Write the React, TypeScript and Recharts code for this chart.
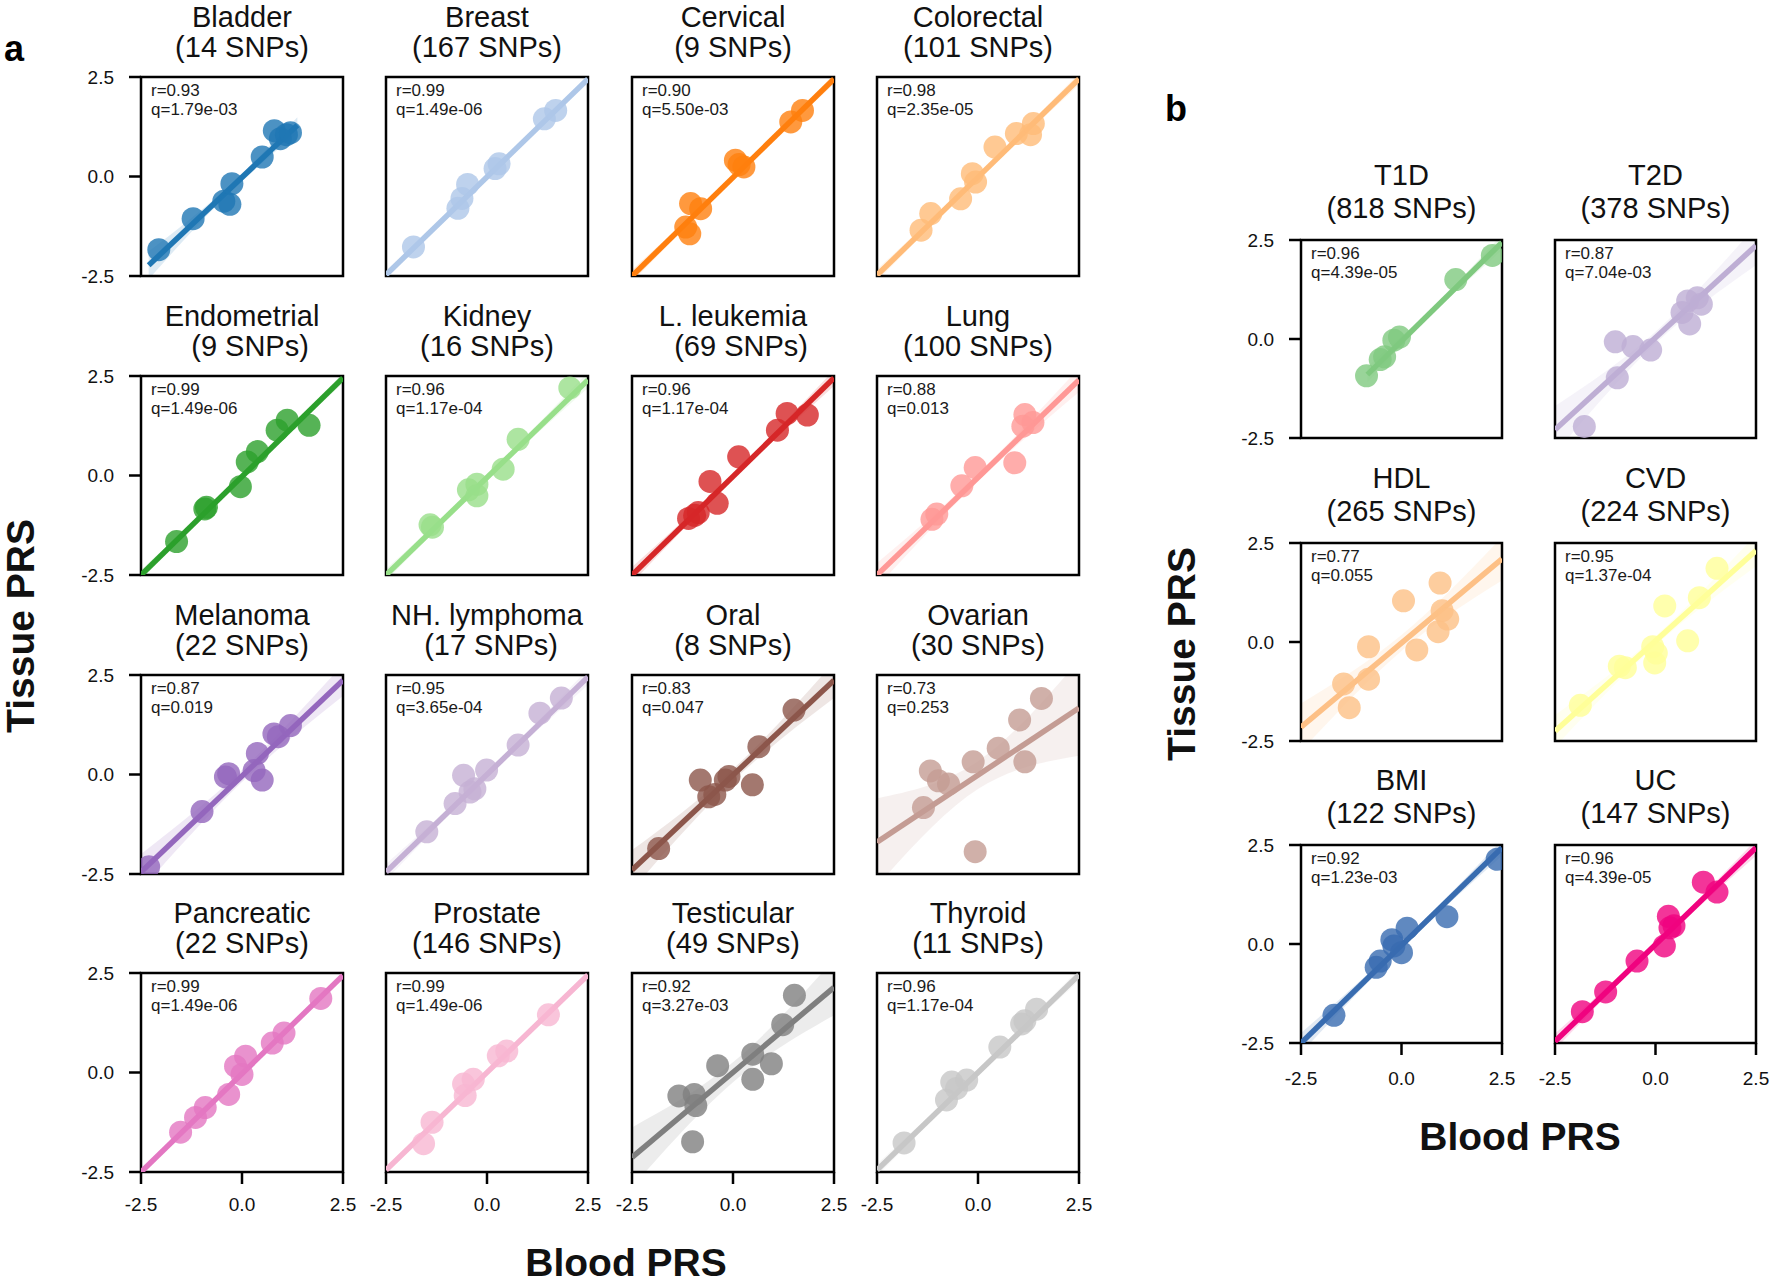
import { ComposedChart, Scatter, Line, Area, XAxis, YAxis, ReferenceArea } from 'recharts'

const FONT = '"Liberation Sans", Arial, Helvetica, sans-serif'

// ---- panel a: cancers ----
const NAMES_A = ['Bladder', 'Breast', 'Cervical', 'Colorectal', 'Endometrial', 'Kidney', 'L. leukemia', 'Lung',
  'Melanoma', 'NH. lymphoma', 'Oral', 'Ovarian', 'Pancreatic', 'Prostate', 'Testicular', 'Thyroid']
const SNP_LABEL_A = ['(14 SNPs)', '(167 SNPs)', '(9 SNPs)', '(101 SNPs)', '  (9 SNPs)', '(16 SNPs)', '  (69 SNPs)', '(100 SNPs)',
  '(22 SNPs)', ' (17 SNPs)', '(8 SNPs)', '(30 SNPs)', '(22 SNPs)', '(146 SNPs)', '(49 SNPs)', '(11 SNPs)']
const R_A = ['0.93', '0.99', '0.90', '0.98', '0.99', '0.96', '0.96', '0.88', '0.87', '0.95', '0.83', '0.73', '0.99', '0.99', '0.92', '0.96']
const Q_A = ['1.79e-03', '1.49e-06', '5.50e-03', '2.35e-05', '1.49e-06', '1.17e-04', '1.17e-04', '0.013',
  '0.019', '3.65e-04', '0.047', '0.253', '1.49e-06', '1.49e-06', '3.27e-03', '1.17e-04']
const COLORS_A = ['#1f77b4', '#aec7e8', '#ff7f0e', '#ffbb78', '#2ca02c', '#98df8a', '#d62728', '#ff9896',
  '#9467bd', '#c5b0d5', '#8c564b', '#c49c94', '#e377c2', '#f7b6d2', '#7f7f7f', '#c7c7c7']

// blood PRS (x) and tissue PRS (y) per panel
const BLOOD_A = [
  [-2.06, -1.21, -0.45, -0.3, -0.25, 0.5, 0.8, 0.95, 1.1, 1.2],
  [-1.82, -0.72, -0.62, -0.48, 0.2, 0.3, 1.42, 1.7],
  [-1.17, -1.07, -1.05, -0.8, 0.06, 0.27, 0.15, 1.43, 1.72],
  [-1.41, -1.17, -0.43, -0.14, -0.06, 0.42, 0.95, 1.3, 1.37],
  [-1.62, -0.92, -0.88, -0.04, 0.13, 0.38, 0.87, 1.12, 1.66],
  [-1.41, -1.35, -0.46, -0.25, -0.25, 0.4, 0.77, 2.05],
  [-1.1, -0.86, -0.95, -0.57, -0.39, 0.14, 1.1, 1.34, 1.84],
  [-1.14, -1.02, -0.4, -0.07, 0.91, 1.16, 1.36, 1.11],
  [-2.31, -0.99, -0.41, -0.33, 0.38, 0.5, 0.3, 0.79, 0.9, 1.2],
  [-1.49, -0.79, -0.58, -0.42, -0.3, -0.01, 0.77, 1.31, 1.84],
  [-1.84, -0.81, -0.6, -0.45, -0.19, -0.1, 0.48, 0.64, 1.51],
  [-1.35, -1.18, -0.98, -0.73, -0.12, 0.5, 1.03, 1.16, 1.57, -0.07],
  [-1.52, -1.15, -0.91, -0.33, -0.16, 0.09, 0.0, 0.75, 1.04, 1.95],
  [-1.57, -1.36, -0.58, -0.54, -0.34, 0.28, 0.49, 1.52],
  [-1.34, -0.96, -0.92, -1.0, -0.38, 0.49, 0.95, 0.49, 1.23, 1.52],
  [-1.83, -0.78, -0.65, -0.53, -0.28, 0.54, 1.08, 1.16, 1.45],
]
const TISSUE_A = [
  [-1.84, -1.06, -0.62, -0.7, -0.18, 0.49, 1.15, 0.95, 1.05, 1.1],
  [-1.77, -0.8, -0.55, -0.2, 0.2, 0.32, 1.45, 1.66],
  [-1.27, -1.44, -0.68, -0.81, 0.41, 0.24, 0.3, 1.37, 1.66],
  [-1.35, -0.93, -0.56, 0.07, -0.14, 0.74, 1.08, 1.05, 1.33],
  [-1.66, -0.84, -0.8, -0.28, 0.34, 0.6, 1.14, 1.39, 1.26],
  [-1.24, -1.3, -0.36, -0.22, -0.51, 0.16, 0.91, 2.2],
  [-1.08, -0.93, -1.0, -0.15, -0.7, 0.47, 1.14, 1.56, 1.52],
  [-1.1, -0.97, -0.26, 0.2, 0.32, 1.53, 1.33, 1.24],
  [-2.32, -0.93, -0.06, 0.02, 0.53, -0.14, 0.1, 1.02, 0.95, 1.23],
  [-1.44, -0.73, -0.02, -0.44, -0.36, 0.11, 0.74, 1.54, 1.92],
  [-1.86, -0.14, -0.56, -0.5, -0.14, -0.05, -0.26, 0.7, 1.62],
  [-0.83, 0.09, -0.16, -0.24, 0.32, 0.66, 1.37, 0.32, 1.91, -1.94],
  [-1.5, -1.13, -0.88, -0.55, 0.16, 0.41, -0.05, 0.74, 0.99, 1.86],
  [-1.79, -1.25, -0.29, -0.58, -0.17, 0.42, 0.54, 1.45],
  [-0.59, -0.55, -0.83, -1.74, 0.17, 0.46, 0.22, -0.17, 1.2, 1.94],
  [-1.77, -0.69, -0.24, -0.4, -0.19, 0.64, 1.22, 1.3, 1.59],
]
// fitted line as [x0, y0, x1, y1], confidence band half widths at [start, middle, end]
const FIT_A = [
  [-2.31, -2.23, 1.37, 1.29], [-2.5, -2.47, 2.5, 2.45], [-2.5, -2.5, 2.5, 2.45], [-2.5, -2.48, 2.5, 2.45],
  [-2.5, -2.5, 2.5, 2.45], [-2.5, -2.5, 2.5, 2.4], [-2.5, -2.5, 2.5, 2.45], [-2.5, -2.5, 2.5, 2.4],
  [-2.5, -2.45, 2.5, 2.37], [-2.5, -2.45, 2.5, 2.45], [-2.5, -2.4, 2.5, 2.37], [-2.5, -1.7, 2.5, 1.67],
  [-2.5, -2.5, 2.5, 2.44], [-2.5, -2.45, 2.5, 2.45], [-2.5, -2.13, 2.5, 2.14], [-2.5, -2.45, 2.5, 2.45],
]
const CI_A = [
  [0.35, 0.1, 0.2], [0.1, 0.04, 0.1], [0.15, 0.05, 0.12], [0.15, 0.06, 0.15],
  [0.12, 0.05, 0.12], [0.15, 0.06, 0.2], [0.2, 0.07, 0.2], [0.3, 0.1, 0.3],
  [0.45, 0.15, 0.4], [0.2, 0.07, 0.2], [0.5, 0.15, 0.45], [1.1, 0.35, 1.2],
  [0.1, 0.04, 0.1], [0.1, 0.04, 0.1], [0.75, 0.25, 0.7], [0.15, 0.06, 0.15],
]

// ---- panel b: other traits ----
const NAMES_B = ['T1D', 'T2D', 'HDL', 'CVD', 'BMI', 'UC']
const SNP_LABEL_B = ['(818 SNPs)', '(378 SNPs)', '(265 SNPs)', '(224 SNPs)', '(122 SNPs)', '(147 SNPs)']
const R_B = ['0.96', '0.87', '0.77', '0.95', '0.92', '0.96']
const Q_B = ['4.39e-05', '7.04e-03', '0.055', '1.37e-04', '1.23e-03', '4.39e-05']
const COLORS_B = ['#7fc97f', '#beaed4', '#fdc086', '#ffff99', '#386cb0', '#f0027f']
const BLOOD_B = [
  [-0.87, -0.53, -0.42, -0.19, -0.05, 1.35, 2.26],
  [-1.77, -1.0, -0.95, -0.56, -0.12, 0.66, 0.8, 1.04, 0.85, 1.14],
  [-1.44, -1.3, -0.82, -0.82, 0.05, 0.38, 0.96, 1.01, 0.91, 1.15],
  [-1.87, -0.9, -0.75, -0.07, 0.02, -0.02, 0.23, 0.8, 1.09, 1.53],
  [-1.68, -0.63, -0.53, -0.24, -0.19, 0.0, 0.14, 1.13, 2.38],
  [-1.82, -1.24, -0.46, 0.22, 0.36, 0.32, 0.46, 1.19, 1.53],
]
const TISSUE_B = [
  [-0.93, -0.52, -0.45, -0.03, 0.05, 1.5, 2.11],
  [-2.21, -0.07, -0.98, -0.19, -0.28, 0.67, 0.96, 1.04, 0.38, 0.88],
  [-1.06, -1.66, -0.12, -0.94, 1.04, -0.2, 1.49, 0.79, 0.26, 0.58],
  [-1.6, -0.61, -0.65, -0.12, -0.28, -0.53, 0.91, 0.03, 1.12, 1.86],
  [-1.8, -0.59, -0.43, 0.11, -0.05, -0.22, 0.4, 0.69, 2.14],
  [-1.71, -1.21, -0.43, -0.05, 0.41, 0.7, 0.46, 1.56, 1.31],
]
const FIT_B = [
  [-0.85, -0.9, 2.5, 2.44], [-2.5, -2.29, 2.5, 2.36], [-2.5, -2.15, 2.5, 2.1],
  [-2.5, -2.25, 2.5, 2.31], [-2.5, -2.5, 2.5, 2.43], [-2.5, -2.46, 2.5, 2.43],
]
const CI_B = [
  [0.2, 0.08, 0.2], [0.6, 0.15, 0.5], [0.6, 0.2, 0.55], [0.4, 0.12, 0.4], [0.25, 0.08, 0.2], [0.2, 0.07, 0.2],
]

const TICKS = [-2.5, 0, 2.5]

// layout (page pixels)
const A_COLS = [141, 386, 632, 877]
const A_ROWS = [77, 376, 675, 973]
const B_COLS = [1301, 1555]
const B_ROWS = [240, 543, 845]

interface PanelProps {
  left: number
  top: number
  w: number
  h: number
  title: string
  sub: string
  r: string
  q: string
  xs: number[]
  ys: number[]
  fit: number[]
  ci: number[]
  color: string
  showX: boolean
  showY: boolean
  titleLH: number
  xMargin: number
}

function Panel(p: PanelProps) {
  const YW = 80
  const MT = 22
  const MR = 30
  const XH = 52
  const pts = p.xs.map((x, i) => ({ x, y: p.ys[i] }))
  const [x0, y0, x1, y1] = p.fit
  const line = [{ x: x0, y: y0 }, { x: x1, y: y1 }]
  const band = [
    { x: x0, band: [y0 - p.ci[0], y0 + p.ci[0]] },
    { x: (x0 + x1) / 2, band: [(y0 + y1) / 2 - p.ci[1], (y0 + y1) / 2 + p.ci[1]] },
    { x: x1, band: [y1 - p.ci[2], y1 + p.ci[2]] },
  ]
  const fmt = (v: number) => v.toFixed(1)

  return (
    <>
      <div style={{ position: 'absolute', left: p.left - YW, top: p.top - MT }}>
        <ComposedChart width={YW + p.w + MR} height={MT + p.h + XH} margin={{ top: MT, right: MR, bottom: 0, left: 0 }}>
          <XAxis
            type="number"
            dataKey="x"
            domain={[-2.5, 2.5]}
            ticks={TICKS}
            interval={0}
            allowDataOverflow
            height={XH}
            axisLine={false}
            tick={p.showX ? { fill: '#111', fontSize: 19 } : false}
            tickLine={p.showX ? { stroke: '#000', strokeWidth: 2.5 } : false}
            tickSize={12}
            tickMargin={p.xMargin}
            tickFormatter={fmt}
          />
          <YAxis
            type="number"
            domain={[-2.5, 2.5]}
            ticks={TICKS}
            interval={0}
            allowDataOverflow
            width={YW}
            axisLine={false}
            tick={p.showY ? { fill: '#111', fontSize: 19 } : false}
            tickLine={p.showY ? { stroke: '#000', strokeWidth: 2.5 } : false}
            tickSize={12}
            tickMargin={15}
            tickFormatter={fmt}
          />
          <Area
            data={band}
            dataKey="band"
            type="monotone"
            fill={p.color}
            fillOpacity={0.15}
            stroke="none"
            isAnimationActive={false}
          />
          <Scatter
            data={pts}
            dataKey="y"
            isAnimationActive={false}
            shape={(s: any) => <circle cx={s.cx} cy={s.cy} r={11.5} fill={p.color} fillOpacity={0.8} />}
          />
          <Line
            data={line}
            dataKey="y"
            stroke={p.color}
            strokeWidth={5.5}
            dot={false}
            activeDot={false}
            isAnimationActive={false}
          />
          <ReferenceArea
            x1={-2.5}
            x2={2.5}
            y1={-2.5}
            y2={2.5}
            fill="none"
            fillOpacity={0}
            stroke="#000"
            strokeWidth={2.5}
            ifOverflow="visible"
          />
        </ComposedChart>
      </div>
      <div
        style={{
          position: 'absolute',
          left: p.left - 60,
          width: p.w + 120,
          top: p.top - p.titleLH * 2 - 15,
          textAlign: 'center',
          fontSize: 29,
          lineHeight: `${p.titleLH}px`,
          whiteSpace: 'pre',
          color: '#111',
        }}
      >
        {p.title + '\n' + p.sub}
      </div>
      <div
        style={{
          position: 'absolute',
          left: p.left + 10,
          top: p.top + 4,
          fontSize: 17,
          lineHeight: '19px',
          color: '#1a1a1a',
        }}
      >
        <div>r={p.r}</div>
        <div>q={p.q}</div>
      </div>
    </>
  )
}

function AxisTitle({ cx, cy, text, rotate }: { cx: number; cy: number; text: string; rotate?: boolean }) {
  return (
    <div
      style={{
        position: 'absolute',
        left: cx,
        top: cy,
        transform: `translate(-50%, -50%)${rotate ? ' rotate(-90deg)' : ''}`,
        fontSize: 39,
        lineHeight: '40px',
        fontWeight: 'bold',
        whiteSpace: 'nowrap',
        color: '#111',
      }}
    >
      {text}
    </div>
  )
}

export default function App() {
  return (
    <div
      style={{
        position: 'absolute',
        left: 0,
        top: 0,
        width: 1770,
        height: 1286,
        background: '#fff',
        fontFamily: FONT,
        overflow: 'hidden',
      }}
    >
      <div style={{ position: 'absolute', left: 4, top: 28, fontSize: 36, fontWeight: 'bold' }}>a</div>
      <div style={{ position: 'absolute', left: 1165, top: 88, fontSize: 36, fontWeight: 'bold' }}>b</div>

      {NAMES_A.map((name, i) => {
        const col = i % 4
        const row = Math.floor(i / 4)
        return (
          <Panel
            key={name}
            left={A_COLS[col]}
            top={A_ROWS[row]}
            w={202}
            h={199}
            title={name}
            sub={SNP_LABEL_A[i]}
            r={R_A[i]}
            q={Q_A[i]}
            xs={BLOOD_A[i]}
            ys={TISSUE_A[i]}
            fit={FIT_A[i]}
            ci={CI_A[i]}
            color={COLORS_A[i]}
            showX={row === 3}
            showY={col === 0}
            titleLH={30}
            xMargin={14}
          />
        )
      })}

      {NAMES_B.map((name, i) => {
        const col = i % 2
        const row = Math.floor(i / 2)
        return (
          <Panel
            key={name}
            left={B_COLS[col]}
            top={B_ROWS[row]}
            w={201}
            h={198}
            title={name}
            sub={SNP_LABEL_B[i]}
            r={R_B[i]}
            q={Q_B[i]}
            xs={BLOOD_B[i]}
            ys={TISSUE_B[i]}
            fit={FIT_B[i]}
            ci={CI_B[i]}
            color={COLORS_B[i]}
            showX={row === 2}
            showY={col === 0}
            titleLH={33}
            xMargin={17}
          />
        )
      })}

      <AxisTitle cx={21} cy={626} text="Tissue PRS" rotate />
      <AxisTitle cx={626} cy={1263} text="Blood PRS" />
      <AxisTitle cx={1182} cy={654} text="Tissue PRS" rotate />
      <AxisTitle cx={1520} cy={1137} text="Blood PRS" />
    </div>
  )
}
